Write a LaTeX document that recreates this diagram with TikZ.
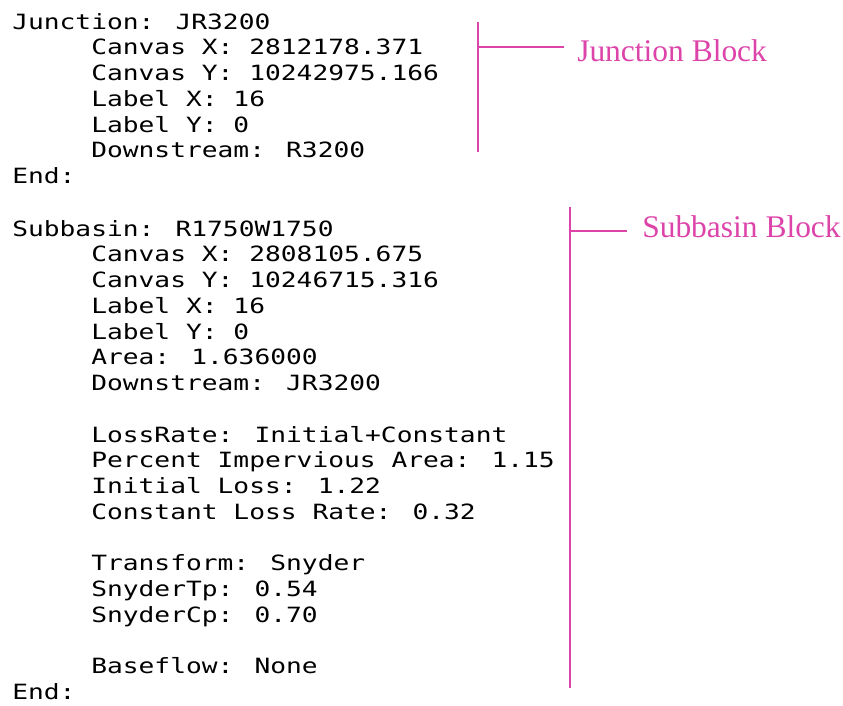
\documentclass[tikz,border=0pt]{standalone}
\usepackage{fontspec}
\newfontfamily\codefont[FakeStretch=1.25]{DejaVu Sans Mono}
\newfontfamily\notefont{Liberation Serif}
\definecolor{note}{RGB}{221,68,170}
\begin{document}
\begin{tikzpicture}[x=0.75pt,y=-0.75pt,
  code/.style={anchor=base west, inner sep=0pt, text=black,
    font=\codefont\fontsize{15.75pt}{15.75pt}\selectfont},
  notelabel/.style={anchor=base west, inner sep=0pt, text=note,
    font=\notefont\fontsize{23.6pt}{23.6pt}\selectfont},
  bracket/.style={draw=note, line width=1.3pt}]
\useasboundingbox[fill=white] (0,0) rectangle (843,706);

% Junction block
\node[code] (j0) at (12,29.2)   {Junction: JR3200};
\node[code] (j1) at (91,54.95)  {Canvas X: 2812178.371};
\node[code] (j2) at (91,80.7)   {Canvas Y: 10242975.166};
\node[code] (j3) at (91,106.45) {Label X: 16};
\node[code] (j4) at (91,132.2)  {Label Y: 0};
\node[code] (j5) at (91,157.95) {Downstream: R3200};
\node[code] (j6) at (12,183.7)  {End:};

% Subbasin block
\node[code] (s0)  at (12,236.2)  {Subbasin: R1750W1750};
\node[code] (s1)  at (91,261.95) {Canvas X: 2808105.675};
\node[code] (s2)  at (91,287.7)  {Canvas Y: 10246715.316};
\node[code] (s3)  at (91,313.45) {Label X: 16};
\node[code] (s4)  at (91,339.2)  {Label Y: 0};
\node[code] (s5)  at (91,364.95) {Area: 1.636000};
\node[code] (s6)  at (91,390.7)  {Downstream: JR3200};
\node[code] (s8)  at (91,442.2)  {LossRate: Initial+Constant};
\node[code] (s9)  at (91,467.95) {Percent Impervious Area: 1.15};
\node[code] (s10) at (91,493.7)  {Initial Loss: 1.22};
\node[code] (s11) at (91,519.45) {Constant Loss Rate: 0.32};
\node[code] (s13) at (91,570.95) {Transform: Snyder};
\node[code] (s14) at (91,596.7)  {SnyderTp: 0.54};
\node[code] (s15) at (91,622.45) {SnyderCp: 0.70};
\node[code] (s17) at (91,673.95) {Baseflow: None};
\node[code] (s18) at (12,699.7)  {End:};

% Bracket marking the junction block
\coordinate (jtop) at (478,22);
\coordinate (jbot) at (478,152);
\coordinate (jtick) at (478,47);
\coordinate (jtickend) at (564,47);
\node[notelabel] (jlabel) at (577,62) {Junction Block};
\draw[bracket] (jtop) -- (jbot);
\draw[bracket] (jtick) -- (jtickend);

% Bracket marking the subbasin block
\coordinate (stop) at (570,207);
\coordinate (sbot) at (570,688);
\coordinate (stick) at (570,231);
\coordinate (stickend) at (627,231);
\node[notelabel] (slabel) at (642,238) {Subbasin Block};
\draw[bracket] (stop) -- (sbot);
\draw[bracket] (stick) -- (stickend);
\end{tikzpicture}
\end{document}
